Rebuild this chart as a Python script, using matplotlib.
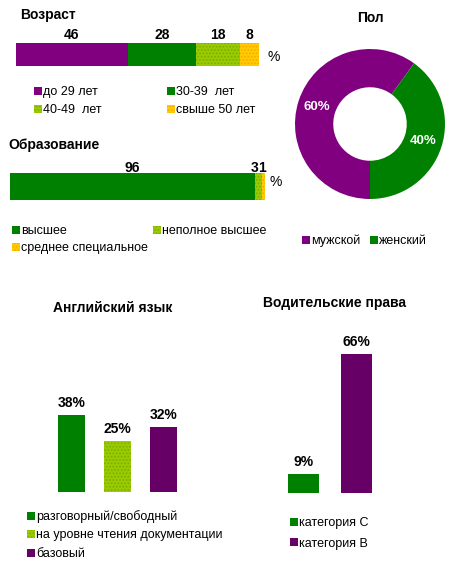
import matplotlib
matplotlib.use('Agg')
import matplotlib.pyplot as plt
from matplotlib.patches import Rectangle

plt.rcParams['font.family'] = ['Liberation Sans', 'DejaVu Sans']
plt.rcParams['hatch.linewidth'] = 0.8

# --- data ---
age_labels = ['до 29 лет', '30-39  лет', '40-49  лет', 'свыше 50 лет']
age_values = [46, 28, 18, 8]
edu_labels = ['высшее', 'неполное высшее', 'среднее специальное']
edu_values = [96, 3, 1]
sex_labels = ['мужской', 'женский']
sex_values = [60, 40]
eng_labels = ['разговорный/свободный', 'на уровне чтения документации', 'базовый']
eng_values = [38, 25, 32]
drv_labels = ['категория C', 'категория B']
drv_values = [9, 66]

GREEN = '#008000'
LIME = '#99CC00'
PURPLE = '#800080'
GOLD = '#FFCC00'
PLUM = '#660066'
# dotted texture for some fills: colour -> (hatch, dot colour)
texture = {LIME: ('.....', '#7FAA00'), GOLD: ('.....', '#FFA500')}

age_colors = [PURPLE, GREEN, LIME, GOLD]
edu_colors = [GREEN, LIME, GOLD]
sex_colors = [PURPLE, GREEN]
eng_colors = [GREEN, LIME, PLUM]
drv_colors = [GREEN, PLUM]

W, H = 459, 574
PT = 72 / 100  # points per pixel
fig = plt.figure(figsize=(W / 100, H / 100), dpi=100)


def box(x0, y0, x1, y1):
    return fig.add_axes([x0 / W, 1 - y1 / H, (x1 - x0) / W, (y1 - y0) / H])


def txt(x, y, s, **kw):
    kw.setdefault('va', 'center')
    fig.text(x / W, 1 - y / H, s, **kw)


def style(c):
    h, ec = texture.get(c, (None, c))
    return dict(facecolor=c, hatch=h, edgecolor=ec, linewidth=0)


def legend(labels, colors, xs, ys, ncol, size=9):
    for i, (lab, c) in enumerate(zip(labels, colors)):
        x, y = xs[i % ncol], ys[i // ncol]
        fig.add_artist(Rectangle((x / W, 1 - (y + 4) / H), 8 / W, 8 / H,
                                 transform=fig.transFigure, **style(c)))
        txt(x + 9, y + 4.5, lab, fontsize=size, va='baseline')


def stacked(ax, values, colors, lift, nudge):
    left = 0
    for v, c, dx in zip(values, colors, nudge):
        ax.barh(0, v, left=left, height=1, **style(c))
        ax.annotate(str(v), (left + v / 2, 0.5), xytext=(dx * PT, lift * PT),
                    textcoords='offset points', ha='center', va='baseline',
                    fontsize=10, fontweight='bold')
        left += v
    ax.set_xlim(0, 100)
    ax.set_ylim(-0.5, 0.5)
    ax.axis('off')


def columns(ax, values, colors, ymax):
    xs = [i + 0.5 for i in range(len(values))]
    bars = ax.bar(xs, values, width=0.587)
    for b, c, v in zip(bars, colors, values):
        b.set(**style(c))
        ax.annotate(f'{v}%', (b.get_x() + b.get_width() / 2, v),
                    xytext=(0, 8 * PT), textcoords='offset points',
                    ha='center', va='baseline', fontsize=10, fontweight='bold')
    ax.set_xlim(0, len(values))
    ax.set_ylim(0, ymax)
    ax.axis('off')


# Возраст
txt(20, 15, 'Возраст', fontsize=10, fontweight='bold')
stacked(box(16, 43, 259, 66), age_values, age_colors, 4, [0, 0, 0, 0])
txt(267, 57, '%', fontsize=10)
legend(age_labels, age_colors, [34, 167], [90.5, 108.5], 2)

# Образование
txt(8, 145, 'Образование', fontsize=10, fontweight='bold')
stacked(box(10, 173, 265, 200), edu_values, edu_colors, 1, [0, -4, -2])
txt(270, 182, '%', fontsize=10)
legend(edu_labels, edu_colors, [12, 153], [229.5, 246.5], 2)

# Пол
txt(370, 18, 'Пол', fontsize=10, fontweight='bold', ha='center')
ax = box(295, 49, 445, 199)
ax.pie(sex_values, colors=sex_colors, startangle=-90, counterclock=False,
       wedgeprops=dict(width=0.51, linewidth=0), autopct='%d%%', pctdistance=0.745,
       textprops=dict(color='white', fontweight='bold', fontsize=9.5))
ax.set_xlim(-1, 1)
ax.set_ylim(-1, 1)
ax.set_aspect('equal')
legend(sex_labels, sex_colors, [302, 370], [239.5], 2)

# Английский язык
txt(113, 308, 'Английский язык', fontsize=10, fontweight='bold', ha='center')
columns(box(48.5, 330, 186.5, 492), eng_values, eng_colors, 80)
legend(eng_labels, eng_colors, [27], [515.5, 533.5, 552.5], 1)

# Водительские права
txt(334.5, 303, 'Водительские права', fontsize=10, fontweight='bold', ha='center')
columns(box(277, 325, 383, 493), drv_values, drv_colors, 80)
legend(drv_labels, drv_colors, [290], [521.5, 542], 1)

fig.savefig('out.png', dpi=100)
